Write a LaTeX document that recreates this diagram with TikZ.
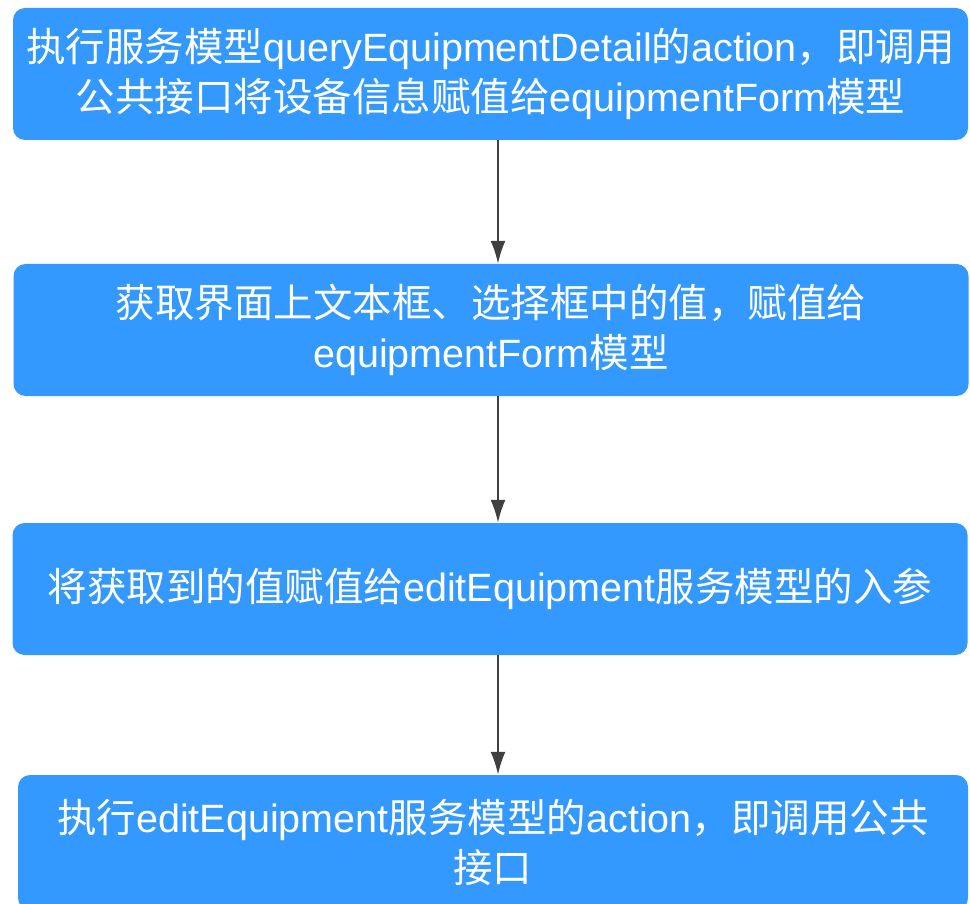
\documentclass[tikz,border=0pt]{standalone}
\usepackage{fontspec}
\setmainfont{Liberation Sans}
\newfontfamily\cjkfont{Noto Sans CJK SC}
\usetikzlibrary{arrows.meta,positioning}
\definecolor{boxblue}{RGB}{51,153,255}
\definecolor{arrowgray}{RGB}{64,64,64}
% switch to the CJK family for Chinese characters
\XeTeXinterchartokenstate=1
\newXeTeXintercharclass\cjkclass
\newcount\cjkcode
\cjkcode="4E00
\loop\XeTeXcharclass\cjkcode=\cjkclass
  \ifnum\cjkcode<"9FFF \advance\cjkcode by 1 \repeat
\XeTeXcharclass"3001=\cjkclass
\XeTeXcharclass"3002=\cjkclass
\XeTeXcharclass"FF0C=\cjkclass
\XeTeXinterchartoks 0 \cjkclass = {\cjkfont}
\XeTeXinterchartoks 4095 \cjkclass = {\cjkfont}
\XeTeXinterchartoks \cjkclass 0 = {\rmfamily}
\XeTeXinterchartoks \cjkclass 4095 = {\rmfamily}

\begin{document}
\begin{tikzpicture}[x=1pt,y=-1pt,
  procbox/.style={fill=boxblue, rounded corners=12pt, text=white, align=center,
    font=\fontsize{39.5}{50}\selectfont, minimum width=955pt, minimum height=132pt},
  flow/.style={-{Latex[length=23pt,width=15pt]}, draw=arrowgray, line width=2pt}]
\useasboundingbox (0,0) rectangle (970,904);
\clip (0,0) rectangle (970,904);
% boxes
\node[procbox] (query) at (490.5,74)
  {执行服务模型queryEquipmentDetail的action，即调用\\公共接口将设备信息赋值给equipmentForm模型};
\node[procbox] (getval) at (491,330)
  {获取界面上文本框、选择框中的值，赋值给\\equipmentForm模型};
\node[procbox] (assign) at (490,589)
  {将获取到的值赋值给editEquipment服务模型的入参};
\node[procbox, minimum width=950pt, minimum height=135pt] (edit) at (493,842.5)
  {执行editEquipment服务模型的action，即调用公共\\接口};
% arrows
\draw[flow] ([xshift=7.5pt]query.south) -- ([xshift=7pt]getval.north);
\draw[flow] ([xshift=7pt]getval.south) -- ([xshift=8pt]assign.north);
\draw[flow] ([xshift=8pt]assign.south) -- ([xshift=5pt]edit.north);
\end{tikzpicture}
\end{document}
